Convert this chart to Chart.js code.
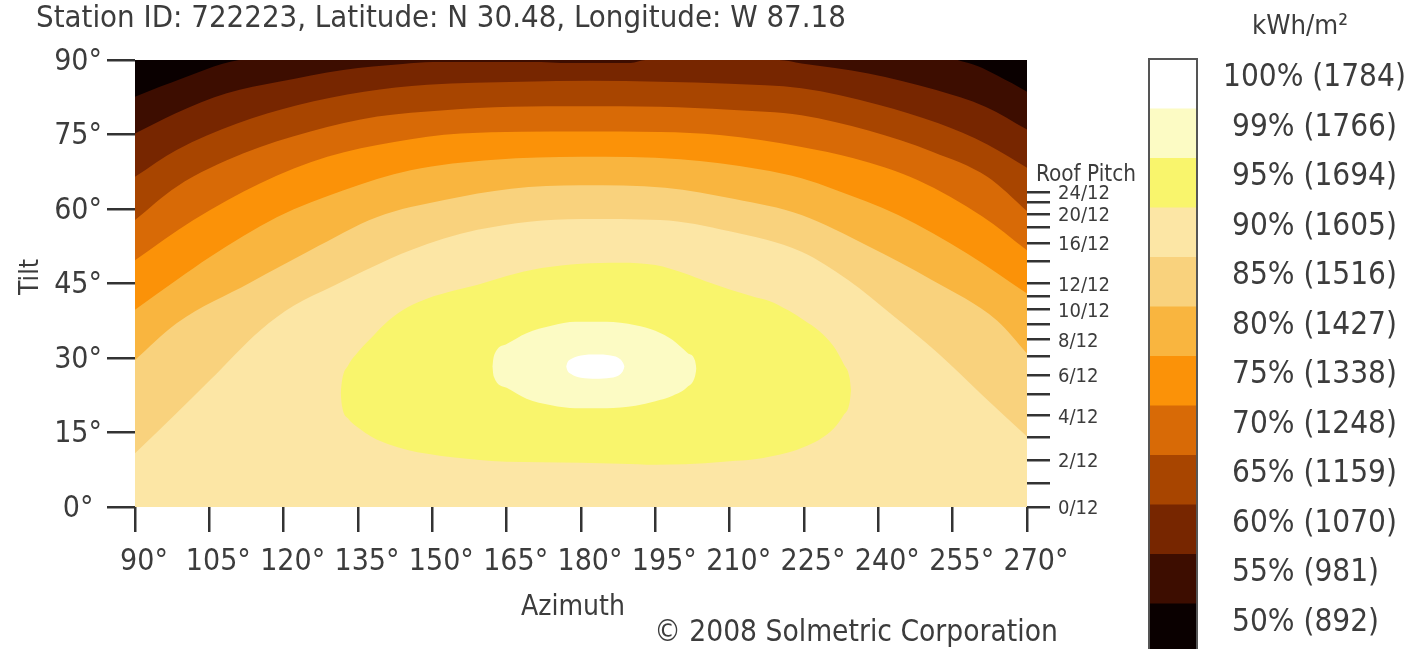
<!DOCTYPE html>
<html>
<head>
<meta charset="utf-8">
<script src="https://cdn.jsdelivr.net/npm/chart.js@4.4.1/dist/chart.umd.min.js"></script>
<style>
html,body{margin:0;padding:0;background:#ffffff;overflow:hidden}
canvas{display:block}
</style>
</head>
<body>
<canvas id="c" width="1414" height="649" style="width:1414px;height:649px"></canvas>
<script>
// ---------------- DATA ----------------
const titleText = 'Station ID: 722223, Latitude: N 30.48, Longitude: W 87.18';
const legendPercent = [100, 99, 95, 90, 85, 80, 75, 70, 65, 60, 55, 50];
const legendKwh = [1784, 1766, 1694, 1605, 1516, 1427, 1338, 1248, 1159, 1070, 981, 892];
const pitchRise = [0, 1, 2, 3, 4, 5, 6, 7, 8, 9, 10, 11, 12, 14, 16, 18, 20, 22, 24];
const pitchLabelled = [0, 2, 4, 6, 8, 10, 12, 16, 20, 24];

// contour lines: [azimuth, tilt]; region above each line takes the band colour
const contour50L = [[90,82.6],[95,84.6],[100,86.5],[104,88.0],[107.5,89.2],[111,90]];
const contour50R = [[256,90],[260,88.8],[264,86.9],[267,85.3],[270,83.6]];
const contour55 = [[90,75.2],[98,79.2],[108.5,83.3],[119,85.6],[132,88.0],[144,89.2],[150,89.6],[172,89.6],[176,89.4],[190,89.4],[193,90],[220,90],[224.5,89.3],[238,87.3],[251.5,84.0],[261.6,80.6],[270,76.0]];
const contour60 = [[90,66.5],[98.4,71.9],[110.6,77.2],[122.7,80.9],[136.2,83.6],[149,85.0],[167.9,85.6],[182,85.8],[196,85.6],[210,85.2],[224.5,84.3],[240,81.0],[252,77.3],[262,73.0],[270,68.3]];
const contour65 = [[90,57.8],[98.4,64.5],[111.9,71.2],[125.4,75.6],[138.9,78.6],[152.4,79.9],[165.9,80.6],[180,80.7],[196,80.6],[210,80.0],[224.5,78.9],[238,75.8],[251,71.5],[262,66.5],[270,59.6]];
const contour70 = [[90,49.7],[101.8,57.8],[115.3,65.2],[128.8,70.5],[142.3,73.5],[155.7,75.2],[180,75.6],[196,75.5],[208,74.9],[224.5,72.5],[235,70.2],[248,65.8],[261,58.5],[270,51.7]];
const contour75 = [[90,39.7],[98.4,45.7],[105.2,50.4],[118.7,58.4],[132.1,63.8],[145.6,67.8],[162.5,69.9],[180,70.5],[200,70.0],[216,68.0],[224.5,66.2],[231,64.0],[244,58.8],[258,51.0],[270,43.0]];
const contour80 = [[90,29.6],[98.4,37.0],[113.3,45.2],[125.4,51.7],[138.9,58.4],[152.4,61.8],[165.9,64.1],[180,64.8],[197,64.3],[211,62.0],[224.5,58.8],[238,52.5],[250.8,45.7],[264,37.5],[270,30.9]];
const contour85 = [[90,10.8],[98,18.5],[105.2,25.6],[115.3,35.6],[122,40.5],[130,44.5],[145.6,51.7],[159.1,55.8],[180,58.0],[196,57.8],[210,55.5],[224.5,51.4],[233.9,45.7],[243,38.5],[252,31.0],[261,22.5],[270,14.2]];

// closed zones (upper / lower edge at the same azimuths)
const yellowAz     = [131.5,131.8,133,135,138,141,145,149,154,159,165,172,180,188,195,201,205,210,215,218,222,225,228,231,233,234.2,234.5];
const yellowTop    = [22.9,25.6,28.5,31.2,34.4,37.4,40.2,42.0,43.5,44.7,46.5,48.1,49.0,49.2,48.7,47.0,45.5,43.8,42.3,41.5,39.5,37.6,35.5,32.3,28.8,26.0,23.5];
const yellowBottom = [22.9,20.2,17.8,16.0,14.0,12.7,11.5,10.7,10.0,9.5,9.1,9.0,8.9,8.7,8.5,8.6,8.8,9.2,9.6,10.1,11.0,12.1,13.5,15.8,18.5,21.0,23.5];
const paleAz     = [162.1,162.4,165,169,174,179,185,191,195,198.5,201.5,203,203.3];
const paleTop    = [28.3,30.3,32.8,35.0,36.5,37.3,37.3,36.6,35.5,33.6,31.0,29.5,27.9];
const paleBottom = [28.3,26.3,24.0,21.8,20.5,19.9,19.9,20.4,21.3,22.4,24.2,26.3,27.9];
const whiteAz     = [177,177.3,178,180,183,186,188,188.5,188.8];
const whiteTop    = [28.3,29.2,29.8,30.5,30.7,30.5,29.7,29.0,28.3];
const whiteBottom = [28.3,27.4,26.8,26.0,25.8,26.0,26.8,27.5,28.3];

// ---------------- STYLE ----------------
const palette = ['#ffffff','#fcfbc4','#f9f56c','#fce6a5','#f9d27d','#f9b53f','#fb9208','#d86a06','#a84500','#772600','#3d0d00','#0a0000'];
const FONT = "'DejaVu Sans Condensed', 'Liberation Sans', Arial, sans-serif";
const TEXT = '#3c3c3c';
const mctx = document.createElement('canvas').getContext('2d');
function fit(text, width) { mctx.font = '100px ' + FONT; return 100 * width / mctx.measureText(text).width; }
const tickSize = fit('105°', 65);
const pitchSize = fit('24/12', 52);
const legSize = fit('99% (1766)', 165);

Chart.defaults.font.family = FONT;
Chart.defaults.color = TEXT;

// ---------------- DATASETS ----------------
const datasets = [];
const common = { borderWidth: 0, borderColor: 'transparent', pointRadius: 0, pointHoverRadius: 0, cubicInterpolationMode: 'monotone' };
function addZone(az, top, bottom, color) {
  const idx = datasets.length;
  datasets.push(Object.assign({ data: az.map((x, i) => ({ x, y: top[i] })), fill: idx + 1, backgroundColor: color }, common));
  datasets.push(Object.assign({ data: az.map((x, i) => ({ x, y: bottom[i] })), fill: false, backgroundColor: 'transparent' }, common));
}
function addBand(pts, color) {
  datasets.push(Object.assign({ data: pts.map(p => ({ x: p[0], y: p[1] })), fill: 'end', backgroundColor: color }, common));
}
addZone(whiteAz, whiteTop, whiteBottom, palette[0]);
addZone(paleAz, paleTop, paleBottom, palette[1]);
addZone(yellowAz, yellowTop, yellowBottom, palette[2]);
addBand(contour50L, palette[11]);
addBand(contour50R, palette[11]);
addBand(contour55, palette[10]);
addBand(contour60, palette[9]);
addBand(contour65, palette[8]);
addBand(contour70, palette[7]);
addBand(contour75, palette[6]);
addBand(contour80, palette[5]);
addBand(contour85, palette[4]);

// ---------------- PLUGINS ----------------
const backdrop = {
  id: 'backdrop',
  beforeDatasetsDraw(chart) {
    const a = chart.chartArea, ctx = chart.ctx;
    ctx.save(); ctx.fillStyle = palette[3];
    ctx.fillRect(a.left, a.top, a.right - a.left, a.bottom - a.top);
    ctx.restore();
  }
};
const decorations = {
  id: 'decorations',
  afterDraw(chart) {
    const ctx = chart.ctx;
    ctx.save();
    ctx.fillStyle = TEXT;
    // title
    ctx.font = fit(titleText, 810) + 'px ' + FONT;
    ctx.textAlign = 'left'; ctx.textBaseline = 'alphabetic';
    ctx.fillText(titleText, 36, 27);
    // axis titles
    ctx.textBaseline = 'middle';
    ctx.font = fit('Azimuth', 104) + 'px ' + FONT;
    ctx.textAlign = 'center';
    ctx.fillText('Azimuth', 573, 608);
    ctx.font = fit('© 2008 Solmetric Corporation', 404) + 'px ' + FONT;
    ctx.fillText('© 2008 Solmetric Corporation', 856, 633);
    ctx.save();
    ctx.translate(31, 277); ctx.rotate(-Math.PI / 2);
    ctx.font = (tickSize * 0.88) + 'px ' + FONT;
    ctx.fillText('Tilt', 0, 0);
    ctx.restore();
    ctx.font = fit('Roof Pitch', 100) + 'px ' + FONT;
    ctx.textAlign = 'left';
    ctx.fillText('Roof Pitch', 1036, 175);
    // colour bar legend
    ctx.font = fit('kWh/m²', 96) + 'px ' + FONT;
    ctx.textAlign = 'center';
    ctx.fillText('kWh/m²', 1300, 27);
    const bx = 1149, bw = 48, by = 59, bh = 49.5;
    for (let i = 0; i < legendPercent.length; i++) {
      ctx.fillStyle = palette[i];
      ctx.fillRect(bx, by + i * bh, bw, bh + 0.5);
    }
    ctx.strokeStyle = '#555'; ctx.lineWidth = 2;
    ctx.strokeRect(bx, by, bw, bh * legendPercent.length + 4);
    ctx.fillStyle = TEXT;
    ctx.font = legSize + 'px ' + FONT;
    ctx.textAlign = 'left';
    for (let i = 0; i < legendPercent.length; i++) {
      const t = legendPercent[i] + '% (' + legendKwh[i] + ')';
      ctx.fillText(t, i === 0 ? 1223 : 1232, 78 + i * bh);
    }
    ctx.restore();
  }
};

// ---------------- CHART ----------------
const tickGrid = { drawOnChartArea: false, drawTicks: true, color: '#333', lineWidth: 2.5 };
new Chart(document.getElementById('c'), {
  type: 'line',
  data: { datasets },
  plugins: [backdrop, decorations],
  options: {
    responsive: false,
    animation: false,
    devicePixelRatio: 1,
    events: [],
    layout: { padding: { left: 0, right: 267, top: 60, bottom: 0 } },
    plugins: { legend: { display: false }, tooltip: { enabled: false }, title: { display: false } },
    scales: {
      x: {
        type: 'linear', min: 90, max: 270,
        ticks: { stepSize: 15, autoSkip: false, maxRotation: 0, labelOffset: 9,
                 padding: 562 - 507 - 25 - tickSize * 0.6,
                 font: { size: tickSize }, callback: v => v + '°' },
        grid: Object.assign({ tickLength: 25 }, tickGrid),
        border: { display: false },
        afterFit: s => { s.height = 142; }
      },
      y: {
        type: 'linear', position: 'left', min: 0, max: 90,
        ticks: { stepSize: 15, autoSkip: false, padding: 5, labelOffset: 2,
                 font: { size: tickSize }, callback: v => v === 0 ? '0° ' : v + '°' },
        grid: Object.assign({ tickLength: 28 }, tickGrid),
        border: { display: false },
        afterFit: s => { s.width = 135; }
      },
      yp: {
        type: 'linear', position: 'right', min: 0, max: 90,
        afterBuildTicks: s => { s.ticks = pitchRise.map(r => ({ value: Math.atan(r / 12) * 180 / Math.PI })); },
        ticks: { autoSkip: false, padding: 8, labelOffset: 2, font: { size: pitchSize },
                 callback: (v, i) => pitchLabelled.includes(pitchRise[i]) ? pitchRise[i] + '/12' : '' },
        grid: Object.assign({ tickLength: 23 }, tickGrid),
        border: { display: false },
        afterFit: s => { s.width = 120; }
      }
    }
  }
});
</script>
</body>
</html>
